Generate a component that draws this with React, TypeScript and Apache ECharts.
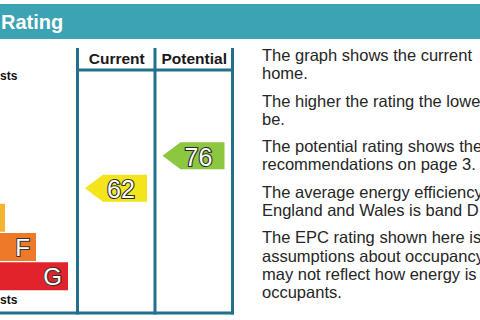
import React, { useEffect, useRef } from "react";
import * as echarts from "echarts";

// ---- data ----
const bands = ["A", "B", "C", "D", "E", "F", "G"];
const bandLengths = [80, 111, 142, 174, 205, 236, 268];
const bandColors = ["#008054", "#19b459", "#8dc63f", "#f4e41c", "#f2b431", "#ee7a29", "#e1232b"];
const bandMinRating = [92, 81, 69, 55, 39, 21, 1];
const columns = ["Current", "Potential"];
const ratings = [62, 76];
// visible (cropped) parts of the texts in the reference
const topNote = "sts";
const bottomNote = "sts";
const title = "Rating";
const paragraphs = [
  ["The graph shows the current", "home."],
  ["The higher the rating the lowe", "be."],
  ["The potential rating shows the", "recommendations on page 3."],
  ["The average energy efficiency", "England and Wales is band D"],
  ["The EPC rating shown here is", "assumptions about occupancy", "may not reflect how energy is", "occupants."],
];

const FONT = "'Liberation Sans', Arial, Helvetica, sans-serif";
const LINE = "#22708c";

function colorForRating(r: number): string {
  for (let i = 0; i < bandMinRating.length; i++) {
    if (r >= bandMinRating[i]) return bandColors[i];
  }
  return bandColors[bandColors.length - 1];
}

export default function App() {
  const ref = useRef<HTMLDivElement>(null);
  useEffect(() => {
    if (!ref.current) return;
    const chart = echarts.init(ref.current, undefined, { renderer: "svg" });

    const lh = 18.2;
    const gap = 9.2;
    const paraEls: any[] = [];
    let top = 45.9;
    paragraphs.forEach((p) => {
      paraEls.push({
        type: "text",
        x: 262,
        y: top,
        style: {
          text: p.join("\n"),
          fontSize: 16.5,
          lineHeight: lh,
          fontFamily: FONT,
          fill: "#262626",
          align: "left",
          verticalAlign: "top",
        },
      });
      top += p.length * lh + gap;
    });

    const option: any = {
      animation: false,
      backgroundColor: "#ffffff",
      grid: [
        { left: 0, top: 86, width: 233, height: 205 },
        { left: 78, top: 100, width: 155, height: 186 },
      ],
      xAxis: [
        { type: "value", gridIndex: 0, min: 200, max: 433, show: false },
        {
          type: "category",
          gridIndex: 1,
          data: columns,
          position: "top",
          axisLine: { show: false },
          axisTick: { show: false },
          axisLabel: {
            interval: 0,
            hideOverlap: false,
            margin: 34,
            fontSize: 15.5,
            fontWeight: "bold",
            fontFamily: FONT,
            color: "#1a1a1a",
          },
        },
      ],
      yAxis: [
        { type: "category", gridIndex: 0, data: bands, inverse: true, show: false },
        { type: "value", gridIndex: 1, min: 20, max: 100, show: false },
      ],
      series: [
        {
          type: "bar",
          xAxisIndex: 0,
          yAxisIndex: 0,
          barWidth: 28,
          data: bandLengths.map((v, i) => ({ value: v, itemStyle: { color: bandColors[i] } })),
          label: {
            show: true,
            position: "insideRight",
            distance: 6,
            formatter: "{b}",
            fontSize: 24,
            fontFamily: FONT,
            color: "#ffffff",
            textBorderColor: "#333333",
            textBorderWidth: 2,
          },
        },
        {
          type: "custom",
          xAxisIndex: 1,
          yAxisIndex: 1,
          data: ratings.map((r, i) => [i, r]),
          renderItem: (params: any, api: any) => {
            const val = api.value(1);
            const c = api.coord([api.value(0), val]);
            const bw = api.size([1, 0])[0];
            const x0 = c[0] - bw / 2 + 7;
            const y = c[1];
            const h = 27;
            const head = 18;
            const w = 62;
            return {
              type: "group",
              children: [
                {
                  type: "polygon",
                  shape: {
                    points: [
                      [x0, y],
                      [x0 + head, y - h / 2],
                      [x0 + w, y - h / 2],
                      [x0 + w, y + h / 2],
                      [x0 + head, y + h / 2],
                    ],
                  },
                  style: { fill: colorForRating(val) },
                },
                {
                  type: "text",
                  x: x0 + 36,
                  y: y + 1,
                  style: {
                    text: String(val),
                    align: "center",
                    verticalAlign: "middle",
                    fontSize: 25,
                    fontFamily: FONT,
                    fill: "#ffffff",
                    stroke: "#2a2a2a",
                    lineWidth: 2.2,
                  },
                },
              ],
            };
          },
        },
      ],
      graphic: {
        elements: [
          { type: "rect", shape: { x: 0, y: 4, width: 480, height: 35 }, style: { fill: "#3ba3b4" } },
          {
            type: "text",
            x: 1,
            y: 22,
            style: {
              text: title,
              align: "left",
              verticalAlign: "middle",
              fontSize: 20,
              fontWeight: "bold",
              fontFamily: FONT,
              fill: "#ffffff",
            },
          },
          {
            type: "text",
            x: 0,
            y: 76,
            style: { text: topNote, align: "left", verticalAlign: "middle", fontSize: 12, fontWeight: "bold", fontFamily: FONT, fill: "#111" },
          },
          {
            type: "text",
            x: 0,
            y: 300,
            style: { text: bottomNote, align: "left", verticalAlign: "middle", fontSize: 12, fontWeight: "bold", fontFamily: FONT, fill: "#111" },
          },
          { type: "line", shape: { x1: 77.5, y1: 48, x2: 77.5, y2: 314.5 }, style: { stroke: LINE, lineWidth: 3 } },
          { type: "line", shape: { x1: 155, y1: 48, x2: 155, y2: 314.5 }, style: { stroke: LINE, lineWidth: 3 } },
          { type: "line", shape: { x1: 232.5, y1: 48, x2: 232.5, y2: 314.5 }, style: { stroke: LINE, lineWidth: 3 } },
          { type: "line", shape: { x1: 76, y1: 70, x2: 234, y2: 70 }, style: { stroke: LINE, lineWidth: 3 } },
          { type: "line", shape: { x1: 0, y1: 313, x2: 234, y2: 313 }, style: { stroke: LINE, lineWidth: 3 } },
          ...paraEls,
        ],
      },
    };
    chart.setOption(option);
    return () => chart.dispose();
  }, []);
  return (
    <div
      ref={ref}
      style={{ position: "fixed", left: 0, top: 0, width: 480, height: 320, background: "#fff" }}
    />
  );
}
